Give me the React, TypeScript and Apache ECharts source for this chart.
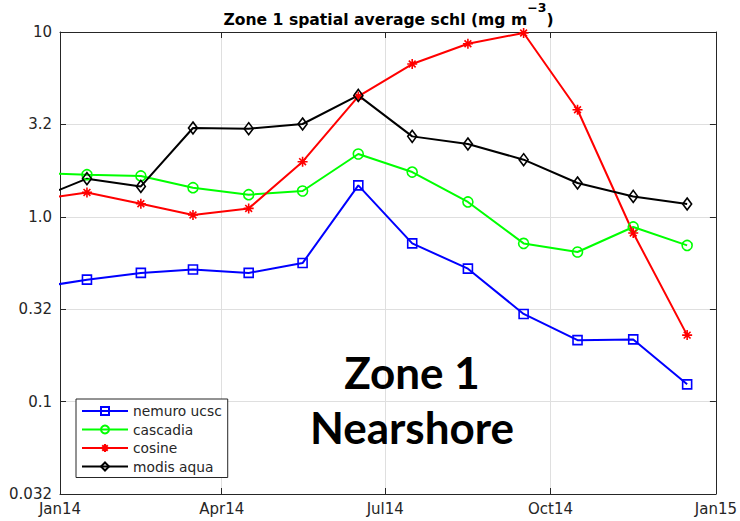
import React, { useEffect, useRef } from "react";
import * as echarts from "echarts";

// Monthly sample dates (mid-month); the first one lies before the axis start and is clipped
const sampleDates = [
  "2013-12-16", "2014-01-16", "2014-02-15", "2014-03-16", "2014-04-16", "2014-05-16", "2014-06-16",
  "2014-07-16", "2014-08-16", "2014-09-16", "2014-10-16", "2014-11-16", "2014-12-16",
];

const nemuroUcsc = [0.409, 0.457, 0.497, 0.519, 0.497, 0.562, 1.479, 0.718, 0.524, 0.298, 0.215, 0.217, 0.124];
const cascadia = [1.734, 1.69, 1.663, 1.437, 1.317, 1.379, 2.187, 1.747, 1.203, 0.718, 0.645, 0.881, 0.7];
const cosine = [1.224, 1.355, 1.177, 1.023, 1.11, 1.987, 4.482, 6.71, 8.64, 9.88, 3.797, 0.817, 0.229];
const modisAqua = [1.213, 1.608, 1.46, 3.024, 2.998, 3.178, 4.538, 2.724, 2.477, 2.037, 1.524, 1.289, 1.173];

const seriesNames = ["nemuro ucsc", "cascadia", "cosine", "modis aqua"];

const xStart = "2014-01-01";
const xEnd = "2015-01-01";
const xTickDates = ["2014-01-01", "2014-04-01", "2014-07-01", "2014-10-01", "2015-01-01"];
const xTickLabels = ["Jan14", "Apr14", "Jul14", "Oct14", "Jan15"];

const yTickExponents = [-1.5, -1, -0.5, 0, 0.5, 1];
const yTickLabels = ["0.032", "0.1", "0.32", "1.0", "3.2", "10"];

const titleMain = "Zone 1 spatial average schl (mg m";
const titleSup = "\u22123";
const annotationLines = ["Zone 1", "Nearshore"];

const DAY = 86400000;
const toDay = (d: string) => (Date.parse(d) - Date.parse(xStart)) / DAY;

const AXIS_COLOR = "#262626";
const GRID_COLOR = "#dfdfdf";
const FONT = "DejaVu Sans";

const asterisk = "path://M5,0L5,10M0,5L10,5M1.6,1.6L8.4,8.4M8.4,1.6L1.6,8.4";

export default function App() {
  const ref = useRef<HTMLDivElement>(null);

  useEffect(() => {
    if (!ref.current) return;
    const chart = echarts.init(ref.current, undefined, { renderer: "svg" });

    const xMin = toDay(xStart);
    const xMax = toDay(xEnd);
    const xTicks = xTickDates.map(toDay);
    const xLabelOf = (v: number) => {
      const i = xTicks.findIndex((t) => Math.abs(t - v) < 1e-6);
      return i >= 0 ? xTickLabels[i] : "";
    };
    const yLabelOf = (v: number) => {
      const i = yTickExponents.findIndex((t) => Math.abs(t - v) < 1e-6);
      return i >= 0 ? yTickLabels[i] : "";
    };

    const mk = (vals: number[]) => sampleDates.map((d, i) => [toDay(d), Math.log10(vals[i])]);

    const seriesDefs = [
      { name: seriesNames[0], data: nemuroUcsc, color: "#0000ff", symbol: "rect", size: 9 },
      { name: seriesNames[1], data: cascadia, color: "#00ff00", symbol: "circle", size: 10 },
      { name: seriesNames[2], data: cosine, color: "#ff0000", symbol: asterisk, size: 10 },
      { name: seriesNames[3], data: modisAqua, color: "#000000", symbol: "diamond", size: [9, 12] },
    ];

    chart.setOption({
      animation: false,
      backgroundColor: "#ffffff",
      grid: { left: 60, top: 32, right: 21, bottom: 27, containLabel: false },
      xAxis: [
        {
          type: "value",
          min: xMin,
          max: xMax,
          position: "bottom",
          axisLine: { show: true, onZero: false, lineStyle: { color: AXIS_COLOR, width: 1 } },
          axisTick: { show: true, inside: true, length: 6, customValues: xTicks, lineStyle: { color: AXIS_COLOR } },
          axisLabel: {
            show: true,
            customValues: xTicks,
            formatter: (v: number) => xLabelOf(v),
            color: AXIS_COLOR,
            fontFamily: FONT,
            fontSize: 15,
            margin: 7,
          },
          splitLine: { show: true, lineStyle: { color: GRID_COLOR, width: 1 } },
        },
        {
          type: "value",
          min: xMin,
          max: xMax,
          position: "top",
          axisLine: { show: true, onZero: false, lineStyle: { color: AXIS_COLOR, width: 1 } },
          axisTick: { show: true, inside: true, length: 6, customValues: xTicks, lineStyle: { color: AXIS_COLOR } },
          axisLabel: { show: false, customValues: xTicks },
          splitLine: { show: false },
        },
      ],
      yAxis: [
        {
          type: "value",
          min: -1.5,
          max: 1,
          interval: 0.5,
          position: "left",
          axisLine: { show: true, onZero: false, lineStyle: { color: AXIS_COLOR, width: 1 } },
          axisTick: { show: true, inside: true, length: 6, lineStyle: { color: AXIS_COLOR } },
          axisLabel: {
            formatter: (v: number) => yLabelOf(v),
            color: AXIS_COLOR,
            fontFamily: FONT,
            fontSize: 15,
            margin: 8,
          },
          splitLine: { show: true, lineStyle: { color: GRID_COLOR, width: 1 } },
        },
        {
          type: "value",
          min: -1.5,
          max: 1,
          interval: 0.5,
          position: "right",
          axisLine: { show: true, onZero: false, lineStyle: { color: AXIS_COLOR, width: 1 } },
          axisTick: { show: true, inside: true, length: 6, lineStyle: { color: AXIS_COLOR } },
          axisLabel: { show: false },
          splitLine: { show: false },
        },
      ],
      legend: {
        orient: "vertical",
        left: 76,
        top: 399,
        padding: [5, 6, 4, 5],
        itemWidth: 46,
        itemHeight: 10,
        itemGap: 4.5,
        backgroundColor: "#ffffff",
        borderColor: AXIS_COLOR,
        borderWidth: 1,
        borderRadius: 0,
        data: seriesNames,
        textStyle: { fontFamily: FONT, fontSize: 13.8, color: AXIS_COLOR, lineHeight: 14 },
      },
      series: seriesDefs.map((s) => ({
        type: "line",
        name: s.name,
        xAxisIndex: 0,
        yAxisIndex: 0,
        data: mk(s.data),
        clip: true,
        symbol: s.symbol,
        symbolSize: s.size,
        showSymbol: true,
        lineStyle: { color: s.color, width: 2 },
        itemStyle: { color: "rgba(0,0,0,0)", borderColor: s.color, borderWidth: 1.6 },
        emphasis: { disabled: true },
        z: 3,
      })),
      graphic: [
        {
          type: "text",
          x: 388.5,
          y: 0.5,
          z: 100,
          style: {
            text: `{t|${titleMain}}{s|${titleSup}}{t|)}`,
            align: "center",
            verticalAlign: "top",
            fill: "#000",
            rich: {
              t: { fontFamily: FONT, fontWeight: "bold", fontSize: 15.6, lineHeight: 39, fill: "#000" },
              s: { fontFamily: FONT, fontWeight: "bold", fontSize: 12.5, lineHeight: 14, verticalAlign: "top", fill: "#000" },
            },
          },
        },
        {
          type: "text",
          x: 412,
          y: 372,
          z: 100,
          style: {
            text: annotationLines[0],
            align: "center",
            verticalAlign: "middle",
            fontFamily: "Lato",
            fontWeight: "bold",
            fontSize: 44,
            fill: "#000",
          },
        },
        {
          type: "text",
          x: 412,
          y: 427,
          z: 100,
          style: {
            text: annotationLines[1],
            align: "center",
            verticalAlign: "middle",
            fontFamily: "Lato",
            fontWeight: "bold",
            fontSize: 44,
            fill: "#000",
          },
        },
      ],
    });

    return () => chart.dispose();
  }, []);

  return (
    <div
      ref={ref}
      style={{ position: "fixed", left: 0, top: 0, width: 740, height: 521, background: "#fff" }}
    />
  );
}
